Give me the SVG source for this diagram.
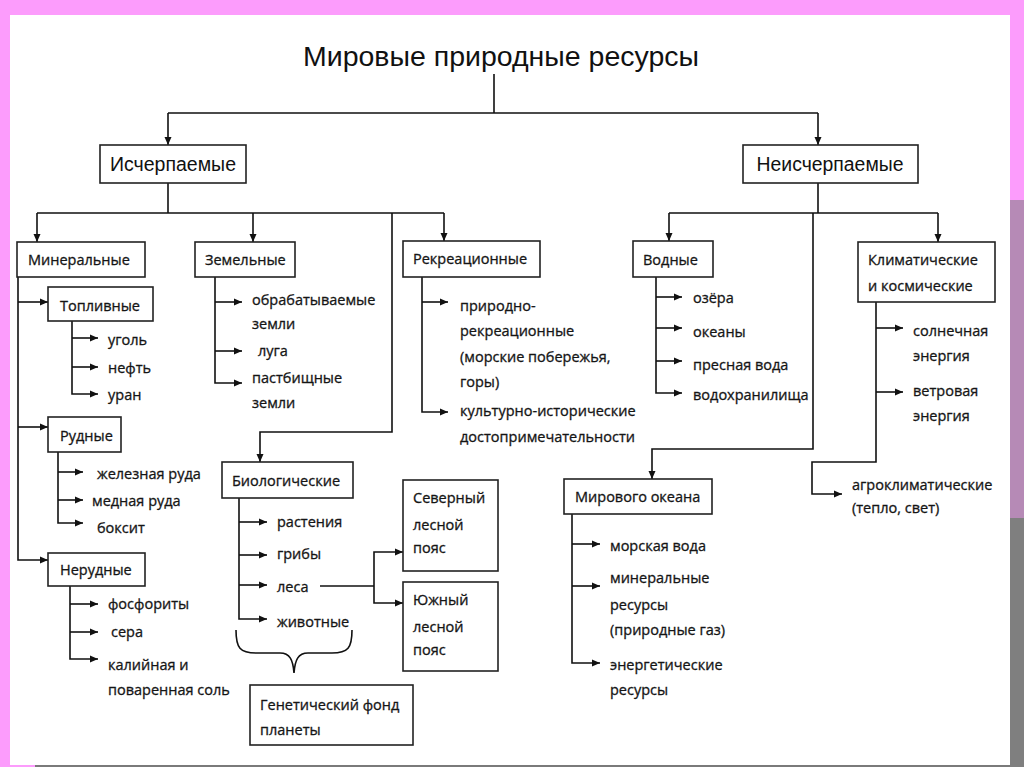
<svg xmlns="http://www.w3.org/2000/svg" width="1024" height="767" viewBox="0 0 1024 767">
<defs>
<marker id="arr" markerUnits="userSpaceOnUse" markerWidth="9" markerHeight="8" refX="8" refY="4" orient="auto">
<path d="M0,0.5 L8,4 L0,7.5 z" fill="#111"/>
</marker>
<style>
.box{fill:#fff;stroke:#222;stroke-width:1.6}
.ln{fill:none;stroke:#111;stroke-width:1.6}
.ar{fill:none;stroke:#111;stroke-width:1.6;marker-end:url(#arr)}
.t{font-family:"Open Sans","Noto Sans",sans-serif;font-size:14.5px;fill:#151515;stroke:#151515;stroke-width:0.3}
.h{font-family:"Liberation Sans",Arial,sans-serif;font-size:20px;fill:#111}
.title{font-family:"Liberation Sans",Arial,sans-serif;font-size:28px;fill:#111}
.mid{text-anchor:middle}
</style>
</defs>
<rect x="0" y="0" width="1024" height="767" fill="#fc9cfc"/>
<rect x="1010" y="200" width="14" height="318" fill="#b68ab6"/>
<rect x="1010" y="518" width="14" height="249" fill="#7f7f7f"/>
<rect x="10" y="15" width="1000" height="750" fill="#fff"/>
<rect x="35" y="765" width="975" height="2" fill="#7a7a7a"/>

<g id="title"><text class="title mid" x="501" y="66" textLength="396" lengthAdjust="spacingAndGlyphs">Мировые природные ресурсы</text></g>

<g id="connectors">
<path class="ln" d="M494,74 V113 M168,113 H818"/>
<path class="ar" d="M168,113 V145"/>
<path class="ar" d="M818,113 V145"/>
<path class="ln" d="M168,183 V213 M37,213 H444"/>
<path class="ar" d="M37,213 V242"/>
<path class="ar" d="M253,213 V242"/>
<path class="ar" d="M444,213 V241"/>
<path class="ar" d="M392,213 V432 H260 V462"/>
<path class="ar" d="M18,277 V560 H48"/>
<path class="ar" d="M18,302 H48"/>
<path class="ar" d="M18,427 H48"/>
<path class="ar" d="M72,321 V394 H98"/>
<path class="ar" d="M72,338 H98"/>
<path class="ar" d="M72,367 H98"/>
<path class="ar" d="M58,452 V523 H83"/>
<path class="ar" d="M58,472 H83"/>
<path class="ar" d="M58,500 H83"/>
<path class="ar" d="M70,586 V659 H98"/>
<path class="ar" d="M70,604 H98"/>
<path class="ar" d="M70,632 H98"/>
<path class="ar" d="M215,277 V383 H242"/>
<path class="ar" d="M215,302 H242"/>
<path class="ar" d="M215,351 H242"/>
<path class="ar" d="M422,277 V412 H448"/>
<path class="ar" d="M422,302 H448"/>
<path class="ar" d="M239,498 V619 H267"/>
<path class="ar" d="M239,522 H267"/>
<path class="ar" d="M239,555 H267"/>
<path class="ar" d="M239,585 H267"/>
<path class="ln" d="M320,586 H374"/>
<path class="ar" d="M374,586 V552 H403"/>
<path class="ar" d="M374,586 V603 H403"/>
<path class="ln" d="M236,630 C236,648 240,653 256,653 L280,653 C290,653 293,660 294,673 C295,660 298,653 308,653 L332,653 C348,653 352,648 352,630"/>
<path class="ln" d="M818,183 V213 M669,213 H938"/>
<path class="ar" d="M669,213 V241"/>
<path class="ar" d="M938,213 V242"/>
<path class="ar" d="M813,213 V449 H652 V479"/>
<path class="ar" d="M656,277 V393 H682"/>
<path class="ar" d="M656,297 H682"/>
<path class="ar" d="M656,328 H682"/>
<path class="ar" d="M656,361 H682"/>
<path class="ar" d="M876,302 V462 H812 V494 H842"/>
<path class="ar" d="M876,328 H903"/>
<path class="ar" d="M876,392 H903"/>
<path class="ar" d="M572,514 V663 H600"/>
<path class="ar" d="M572,544 H600"/>
<path class="ar" d="M572,586 H600"/>
</g>

<g id="n-ischerpaemye"><rect class="box" x="100" y="145" width="146" height="38"/><text class="h mid" x="173" y="171" textLength="126" lengthAdjust="spacingAndGlyphs">Исчерпаемые</text></g>
<g id="n-neischerpaemye"><rect class="box" x="743" y="145" width="175" height="38"/><text class="h mid" x="830" y="171" textLength="147" lengthAdjust="spacingAndGlyphs">Неисчерпаемые</text></g>

<g id="n-mineralnye"><rect class="box" x="17" y="242" width="128" height="35"/><text class="t" x="28" y="265">Минеральные</text></g>
<g id="n-toplivnye"><rect class="box" x="48" y="287" width="105" height="34"/><text class="t" x="60" y="311">Топливные</text>
<text class="t" x="108" y="345">уголь</text><text class="t" x="108" y="373">нефть</text><text class="t" x="108" y="400">уран</text></g>
<g id="n-rudnye"><rect class="box" x="48" y="417" width="73" height="35"/><text class="t" x="60" y="441">Рудные</text>
<text class="t" x="97" y="479">железная руда</text><text class="t" x="92" y="506">медная руда</text><text class="t" x="97" y="533">боксит</text></g>
<g id="n-nerudnye"><rect class="box" x="48" y="553" width="97" height="33"/><text class="t" x="60" y="575">Нерудные</text>
<text class="t" x="108" y="609">фосфориты</text><text class="t" x="111" y="637">сера</text><text class="t" x="108" y="670">калийная и</text><text class="t" x="108" y="695">поваренная соль</text></g>

<g id="n-zemelnye"><rect class="box" x="195" y="242" width="100" height="35"/><text class="t" x="205" y="265">Земельные</text>
<text class="t" x="252" y="305">обрабатываемые</text><text class="t" x="252" y="329">земли</text><text class="t" x="258" y="356">луга</text><text class="t" x="252" y="383">пастбищные</text><text class="t" x="252" y="408">земли</text></g>

<g id="n-rekreacionnye"><rect class="box" x="403" y="241" width="137" height="36"/><text class="t" x="413" y="264">Рекреационные</text>
<text class="t" x="460" y="311">природно-</text><text class="t" x="460" y="336">рекреационные</text><text class="t" x="460" y="362">(морские побережья,</text><text class="t" x="460" y="387">горы)</text><text class="t" x="460" y="416">культурно-исторические</text><text class="t" x="460" y="442">достопримечательности</text></g>

<g id="n-biologicheskie"><rect class="box" x="222" y="462" width="131" height="36"/><text class="t" x="232" y="486">Биологические</text>
<text class="t" x="277" y="527">растения</text><text class="t" x="277" y="559">грибы</text><text class="t" x="277" y="592">леса</text><text class="t" x="277" y="627">животные</text></g>
<g id="n-severny"><rect class="box" x="403" y="480" width="95" height="91"/><text class="t" x="413" y="503">Северный</text><text class="t" x="413" y="530">лесной</text><text class="t" x="413" y="553">пояс</text></g>
<g id="n-yuzhny"><rect class="box" x="403" y="582" width="95" height="89"/><text class="t" x="413" y="605">Южный</text><text class="t" x="413" y="632">лесной</text><text class="t" x="413" y="655">пояс</text></g>
<g id="n-genfond"><rect class="box" x="250" y="685" width="163" height="60"/><text class="t" x="260" y="710">Генетический фонд</text><text class="t" x="260" y="735">планеты</text></g>

<g id="n-vodnye"><rect class="box" x="633" y="241" width="80" height="36"/><text class="t" x="643" y="265">Водные</text>
<text class="t" x="693" y="303">озёра</text><text class="t" x="693" y="337">океаны</text><text class="t" x="693" y="370">пресная вода</text><text class="t" x="693" y="400">водохранилища</text></g>

<g id="n-klimaticheskie"><rect class="box" x="858" y="242" width="137" height="60"/><text class="t" x="868" y="265">Климатические</text><text class="t" x="868" y="291">и космические</text>
<text class="t" x="913" y="336">солнечная</text><text class="t" x="913" y="361">энергия</text><text class="t" x="913" y="396">ветровая</text><text class="t" x="913" y="421">энергия</text>
<text class="t" x="852" y="490">агроклиматические</text><text class="t" x="852" y="513">(тепло, свет)</text></g>

<g id="n-mirovogo-okeana"><rect class="box" x="564" y="479" width="148" height="35"/><text class="t" x="575" y="502">Мирового океана</text>
<text class="t" x="610" y="551">морская вода</text><text class="t" x="610" y="583">минеральные</text><text class="t" x="610" y="610">ресурсы</text><text class="t" x="610" y="635">(природные газ)</text><text class="t" x="610" y="670">энергетические</text><text class="t" x="610" y="695">ресурсы</text></g>
</svg>
